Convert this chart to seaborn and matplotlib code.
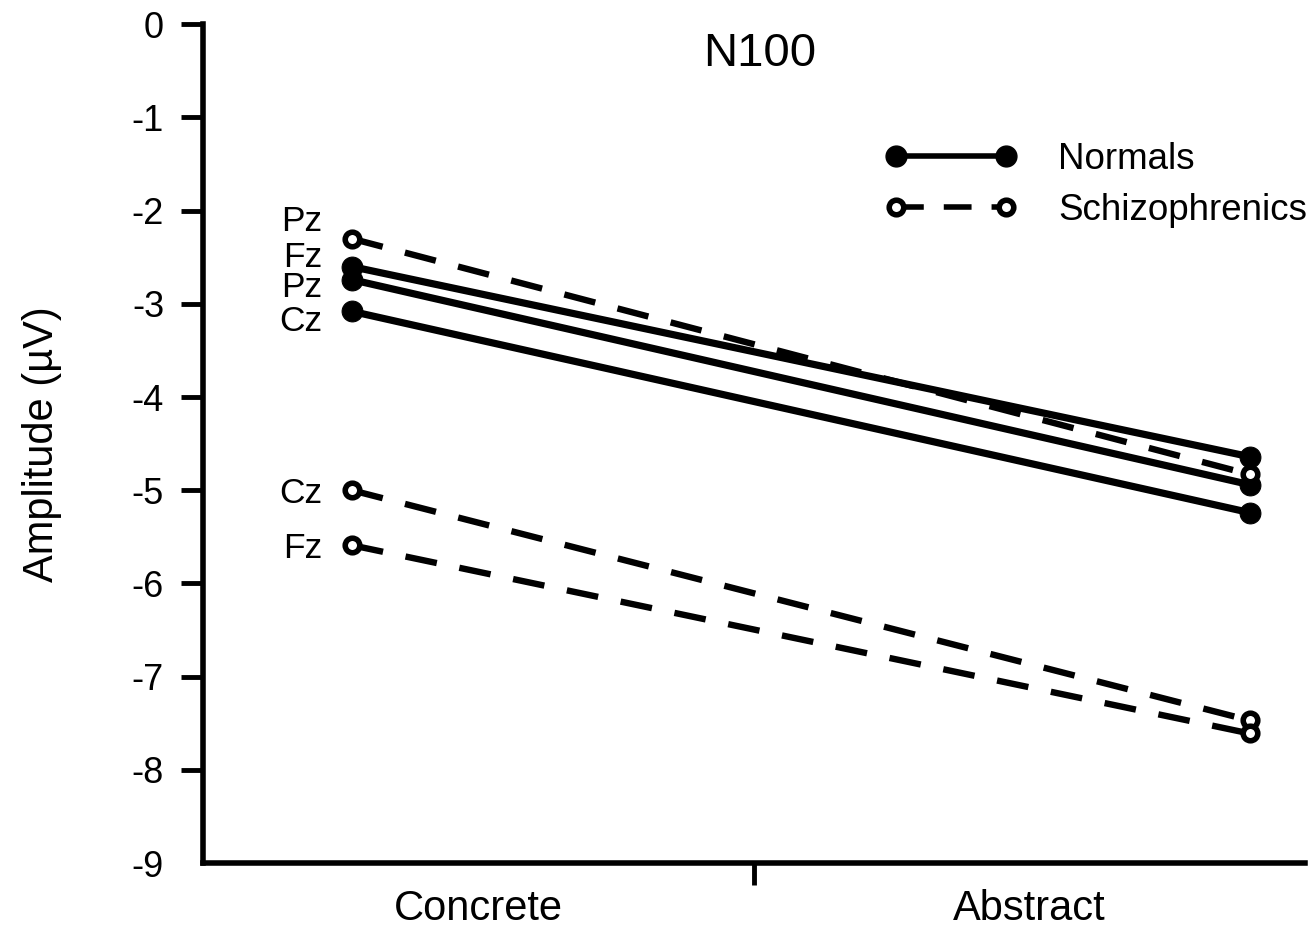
import pandas as pd
import seaborn as sns
import matplotlib.pyplot as plt
from matplotlib.lines import Line2D
from matplotlib.ticker import FixedLocator, NullFormatter

sns.set_style('ticks')
plt.rcParams['font.family'] = ['Liberation Sans', 'DejaVu Sans']
for k in ['text.color', 'axes.labelcolor', 'xtick.color', 'ytick.color', 'axes.edgecolor']:
    plt.rcParams[k] = 'black'

# --- data (amplitude in microvolts) ---
conditions = ['Concrete', 'Abstract']
electrodes = ['Fz', 'Pz', 'Cz']
normals_concrete = [-2.60, -2.74, -3.08]
normals_abstract = [-4.64, -4.94, -5.24]
schizo_concrete = [-5.59, -2.30, -5.00]
schizo_abstract = [-7.61, -4.83, -7.47]

# where the two conditions sit on the x axis (axis runs 0..4)
x_pos = [0.54, 3.80]

rows = []
for grp, conc, abst in [('Normals', normals_concrete, normals_abstract),
                        ('Schizophrenics', schizo_concrete, schizo_abstract)]:
    for el, c, a in zip(electrodes, conc, abst):
        rows.append({'group': grp, 'electrode': el, 'x': x_pos[0], 'amp': c})
        rows.append({'group': grp, 'electrode': el, 'x': x_pos[1], 'amp': a})
df = pd.DataFrame(rows)

fig = plt.figure(figsize=(13.14, 9.35), dpi=100)
ax = fig.add_axes([0.1545, 0.077, 0.8385, 0.897])

dash_pat = (5.0, 3.6)
norm = df[df.group == 'Normals']
schz = df[df.group == 'Schizophrenics']
sns.lineplot(data=norm, x='x', y='amp', units='electrode', estimator=None,
             color='black', lw=5.2, marker='o', markersize=15, mec='black',
             mfc='black', ax=ax, legend=False)
sns.lineplot(data=schz, x='x', y='amp', units='electrode', estimator=None,
             color='black', lw=4.6, marker='o', markersize=10.5, mew=4,
             mec='black', mfc='white', ax=ax, legend=False)
for ln in ax.lines[len(electrodes):]:
    ln.set_dashes(dash_pat)

# electrode labels next to the concrete points (baseline offsets in points)
lab_font = 25.5
offsets = {('Normals', 'Fz'): -0.5, ('Normals', 'Pz'): -12.5, ('Normals', 'Cz'): -14,
           ('Schizophrenics', 'Pz'): 5.5, ('Schizophrenics', 'Cz'): -9.5,
           ('Schizophrenics', 'Fz'): -9.5}
for grp, conc in [('Normals', normals_concrete), ('Schizophrenics', schizo_concrete)]:
    for el, v in zip(electrodes, conc):
        ax.annotate(el, (x_pos[0], v), xytext=(-21, offsets[(grp, el)]),
                    textcoords='offset points', ha='right', va='baseline',
                    fontsize=lab_font)

ax.set_xlim(0, 4)
ax.set_ylim(-9, 0)
ax.set_yticks(range(-9, 1))
ax.set_yticklabels([str(v) for v in range(-9, 1)], fontsize=26)
ax.set_xticks([1, 3])
ax.set_xticklabels(conditions, fontsize=30)
ax.tick_params(axis='x', which='major', length=0, pad=19)
ax.xaxis.set_minor_locator(FixedLocator([2]))
ax.xaxis.set_minor_formatter(NullFormatter())
ax.tick_params(axis='x', which='minor', length=16, width=3.5, direction='out')
ax.tick_params(axis='y', length=16, width=3.5, direction='out', pad=12)
ax.yaxis.get_major_ticks()[0].tick1line.set_visible(False)

ax.set_xlabel('')
ax.set_ylabel('Amplitude (µV)', fontsize=30, labelpad=50)

sns.despine(ax=ax)
for s in ['left', 'bottom']:
    ax.spines[s].set_linewidth(4)
ax.set_facecolor('white')

ax.text(0.505, 0.965, 'N100', transform=ax.transAxes, ha='center', va='center',
        fontsize=34)

handles = [
    Line2D([], [], color='black', lw=4, marker='o', markersize=15, mfc='black'),
    Line2D([], [], color='black', lw=4, marker='o', markersize=10.5, mew=4,
           mfc='white', dashes=dash_pat),
]
ax.legend(handles, ['Normals', 'Schizophrenics'], loc='center right',
          bbox_to_anchor=(1307 / 1314, 1 - 185 / 935), bbox_transform=fig.transFigure,
          frameon=False, fontsize=26.5, borderpad=0, borderaxespad=0,
          handlelength=3.6, handletextpad=1.1, labelspacing=0.45, numpoints=2)

fig.savefig('out.png', dpi=100, facecolor='white')
